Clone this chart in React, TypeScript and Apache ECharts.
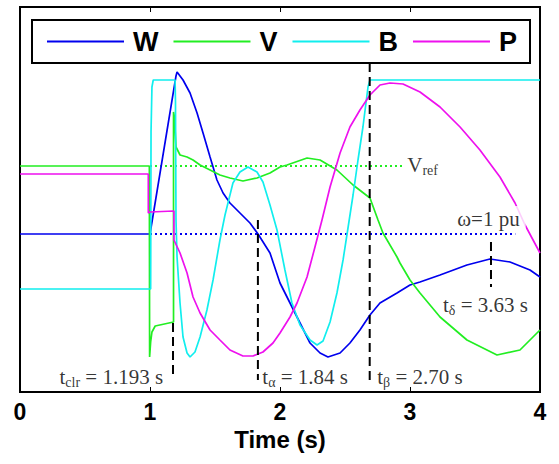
import React, { useEffect, useRef } from "react";
import * as echarts from "echarts";

// ---- axis ----
const tickLabels = ["0", "1", "2", "3", "4"];
const axisTitle = "Time (s)";

// ---- series (time in s, value in arbitrary units) ----
const seriesNames = ["W", "V", "B", "P"];
const seriesColors = ["#0000ee", "#22ee22", "#11eeee", "#ee11ee"];

const wT = [0, 1.0, 1.2, 1.208, 1.254, 1.308, 1.362, 1.408, 1.462, 1.515, 1.562, 1.615, 1.692, 1.769, 1.831, 1.923, 2.0, 2.077, 2.154, 2.231, 2.308, 2.369, 2.462, 2.538, 2.615, 2.692, 2.769, 2.9, 3.0, 3.077, 3.231, 3.438, 3.615, 3.769, 3.923, 4.0];
const wV = [158, 158, 316, 320, 312, 299, 279, 259, 235, 212, 199, 189, 179, 169, 158, 139, 109, 89, 69, 49, 39, 35, 39, 49, 62, 77, 89, 99, 107, 110, 117, 127, 133, 130, 122, 115];

const vT = [0, 0.995, 0.997, 1.005, 1.015, 1.04, 1.181, 1.181, 1.188, 1.2, 1.231, 1.285, 1.331, 1.385, 1.462, 1.538, 1.615, 1.715, 1.823, 1.923, 2.0, 2.054, 2.208, 2.308, 2.438, 2.562, 2.692, 2.754, 2.792, 2.9, 2.923, 3.0, 3.077, 3.231, 3.438, 3.669, 3.846, 4.0];
const vV = [226, 226, 35, 50, 60, 66, 70, 280, 275, 245, 237, 235, 232, 227, 222, 217, 214, 211, 214, 219, 225, 227, 234, 232, 222, 207, 194, 172, 159, 135, 129, 112, 99, 75, 52, 37, 42, 62];

const bT = [0, 1.005, 1.008, 1.015, 1.025, 1.193, 1.196, 1.2, 1.208, 1.231, 1.254, 1.285, 1.308, 1.346, 1.385, 1.438, 1.485, 1.538, 1.577, 1.638, 1.692, 1.754, 1.823, 1.869, 1.923, 1.977, 2.038, 2.092, 2.154, 2.231, 2.285, 2.331, 2.385, 2.438, 2.485, 2.523, 2.562, 2.6, 2.638, 2.677, 2.692, 4.0];
const bV = [103, 103, 260, 305, 312, 312, 290, 172, 135, 89, 55, 39, 35, 40, 55, 82, 112, 152, 177, 209, 220, 225, 220, 210, 187, 162, 122, 89, 67, 52, 47, 51, 70, 99, 132, 164, 197, 232, 265, 305, 312, 312];

const pT = [0, 0.987, 0.987, 1.0, 1.184, 1.184, 1.231, 1.285, 1.331, 1.385, 1.462, 1.538, 1.615, 1.715, 1.792, 1.869, 1.946, 2.0, 2.077, 2.131, 2.208, 2.269, 2.323, 2.385, 2.462, 2.538, 2.615, 2.692, 2.769, 2.846, 2.946, 3.077, 3.231, 3.385, 3.538, 3.692, 3.808, 3.885, 4.0];
const pV = [218, 218, 179, 180, 181, 152, 139, 119, 95, 79, 62, 52, 42, 36, 36, 40, 49, 59, 75, 89, 115, 145, 172, 205, 239, 265, 282, 297, 307, 309, 308, 300, 285, 265, 242, 215, 189, 167, 139];

// ---- reference lines (dotted) ----
const refStartT = [1.0, 1.0];
const refEndT = [2.946, 3.81];
const refLevel = [226, 158];
const refColors = ["#22ee22", "#0000ee"];

// ---- event markers (dashed) ----
const markerT = [1.177, 1.83, 2.69, 3.623];
const markerTop = [69, 172, 329, 150];
const markerBottom = [17, 12, 10, 105];

// ---- annotations ----
const annT = [0.3, 1.86, 2.744, 3.25, 2.975, 3.36];
const annV = [15, 15, 15, 87, 227, 173];
const annTexts = [
  "{m|t}{s|clr}{m| = 1.193 s}",
  "{m|t}{s|α}{m| = 1.84 s}",
  "{m|t}{s|β}{m| = 2.70 s}",
  "{m|t}{s|δ}{m| = 3.63 s}",
  "{m|V}{s|ref}",
  "{m|ω=1 pu}",
];

const zip = (t: number[], v: number[]) => t.map((x, i) => [x, v[i]]);

function buildOption(): echarts.EChartsOption {
  const dataSets = [zip(wT, wV), zip(vT, vV), zip(bT, bV), zip(pT, pV)];
  const mainSeries = seriesNames.map((name, i) => ({
    type: "line" as const,
    name,
    data: dataSets[i],
    symbol: "none",
    color: seriesColors[i],
    lineStyle: { color: seriesColors[i], width: 1.7 },
    z: 3,
  }));
  const refSeries = refLevel.map((lv, i) => ({
    type: "line" as const,
    data: [[refStartT[i], lv], [refEndT[i], lv]],
    symbol: "none",
    lineStyle: { color: refColors[i], width: 2, type: [2, 3] as any },
    z: 2,
  }));
  const markerSeries = markerT.map((t, i) => ({
    type: "line" as const,
    data: [[t, markerTop[i]], [t, markerBottom[i]]],
    symbol: "none",
    lineStyle: { color: "#000", width: 2, type: [9, 5] as any },
    z: 4,
  }));
  const annSeries = {
    type: "scatter" as const,
    symbolSize: 1,
    itemStyle: { color: "rgba(0,0,0,0)" },
    silent: true,
    z: 5,
    data: annT.map((t, i) => ({
      value: [t, annV[i]],
      label: {
        show: true,
        position: "right" as const,
        distance: 0,
        formatter: annTexts[i],
        ...(i === 5 ? { backgroundColor: "#fff", padding: [1, 6, 1, 0] } : {}),
        rich: {
          m: { fontFamily: "Liberation Serif", fontSize: 21, color: "#000", lineHeight: 24 },
          s: { fontFamily: "Liberation Serif", fontSize: 14, color: "#000", lineHeight: 13, verticalAlign: "bottom" },
        },
      },
    })),
  };

  return {
    animation: false,
    backgroundColor: "#fff",
    grid: {
      left: 20,
      right: 19,
      top: 7,
      bottom: 72,
      show: true,
      borderColor: "#000",
      borderWidth: 2,
    },
    legend: {
      data: seriesNames,
      left: 32,
      top: 20,
      icon: "rect",
      itemWidth: 77,
      itemHeight: 2,
      itemGap: 15,
      selectedMode: false,
      borderColor: "#000",
      borderWidth: 2,
      padding: [8, 13, 8, 15],
      backgroundColor: "#fff",
      textStyle: {
        fontFamily: "Liberation Sans",
        fontSize: 27,
        fontWeight: "bold",
        color: "#000",
        padding: [0, 0, 0, 4],
      },
    },
    xAxis: [
      {
        type: "value",
        min: 0,
        max: 4,
        interval: 1,
        position: "bottom",
        name: axisTitle,
        nameLocation: "middle",
        nameGap: 33,
        nameTextStyle: { fontFamily: "Liberation Sans", fontSize: 24, fontWeight: "bold", color: "#000" },
        axisLine: { show: true, lineStyle: { color: "#000", width: 2 } },
        axisTick: { show: true, inside: true, length: 5, lineStyle: { color: "#000", width: 1 } },
        axisLabel: {
          show: true,
          margin: 8,
          fontFamily: "Liberation Sans",
          fontSize: 23,
          fontWeight: "bold",
          color: "#000",
          formatter: (v: number) => tickLabels[Math.round(v)] ?? "",
        },
        splitLine: { show: false },
      },
      {
        type: "value",
        min: 0,
        max: 4,
        interval: 1,
        position: "top",
        axisLine: { show: false },
        axisTick: { show: true, inside: true, length: 5, lineStyle: { color: "#000", width: 1 } },
        axisLabel: { show: false },
        splitLine: { show: false },
      },
    ],
    yAxis: {
      type: "value",
      min: 0,
      max: 385,
      show: false,
      splitLine: { show: false },
    },
    series: [...refSeries, ...mainSeries, ...markerSeries, annSeries] as any,
  };
}

export default function App() {
  const ref = useRef<HTMLDivElement>(null);
  useEffect(() => {
    if (!ref.current) return;
    const chart = echarts.init(ref.current, null, { renderer: "svg" });
    chart.setOption(buildOption());
    return () => chart.dispose();
  }, []);
  return (
    <div
      ref={ref}
      style={{ position: "fixed", left: 0, top: 0, width: 559, height: 464, background: "#fff" }}
    />
  );
}
